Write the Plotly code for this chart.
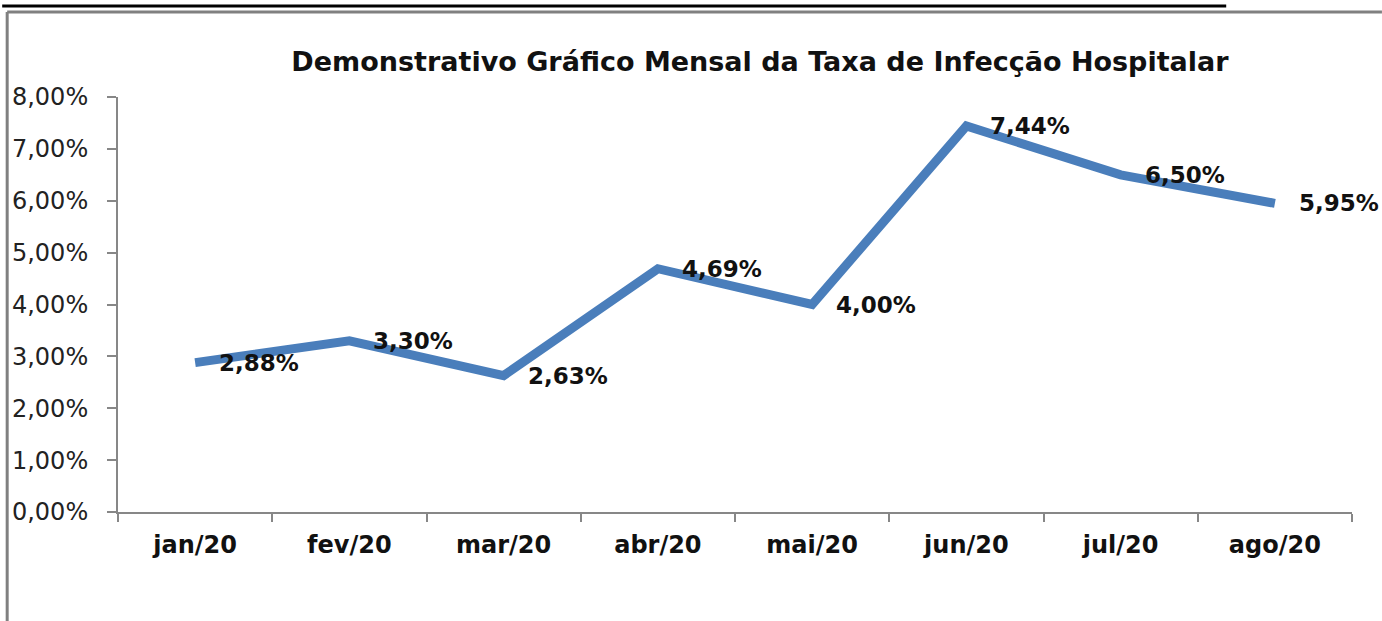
import plotly.graph_objects as go

meses = ["jan/20", "fev/20", "mar/20", "abr/20", "mai/20", "jun/20", "jul/20", "ago/20"]
taxa = [0.0288, 0.0330, 0.0263, 0.0469, 0.0400, 0.0744, 0.0650, 0.0595]
titulo = "Demonstrativo Gráfico Mensal da Taxa de Infecção Hospitalar"

W, H = 1382, 621
L, R, T, B = 116, 30, 97, 109
pw, ph = W - L - R, H - T - B

def px(x):
    return (x - L) / pw

def py(y):
    return (H - B - y) / ph

FONT = "DejaVu Sans"
AX = "#878787"

fig = go.Figure()
fig.add_trace(go.Scatter(
    x=meses, y=taxa, mode="lines",
    line=dict(color="#4A7EBB", width=9),
    hoverinfo="skip", showlegend=False,
))

for m, v in zip(meses, taxa):
    fig.add_annotation(
        x=m, y=v, xref="x", yref="y",
        text=f"<b>{v*100:.2f}%</b>".replace(".", ","),
        showarrow=False, xanchor="left", yanchor="middle", xshift=22,
        font=dict(family=FONT, size=23, color="#111111"),
    )

fig.update_layout(
    width=W, height=H,
    margin=dict(l=L, r=R, t=T, b=B),
    paper_bgcolor="white", plot_bgcolor="white",
    separators=",.",
    title=dict(
        text=f"<b>{titulo}</b>", xref="container", yref="container",
        x=760 / W, y=1 - 62 / H, xanchor="center", yanchor="middle",
        font=dict(family=FONT, size=27, color="#111111"),
    ),
    xaxis=dict(
        type="category", range=[-0.5, 7.5], tickson="boundaries",
        ticks="outside", ticklen=8, tickwidth=2, tickcolor=AX,
        showline=True, linecolor=AX, linewidth=2, showgrid=False,
        tickfont=dict(family=FONT, size=24, color="#111111"),
        ticklabelstandoff=10,
        tickprefix="<b>", ticksuffix="</b>",
    ),
    yaxis=dict(
        range=[0, 0.08], dtick=0.01, tickformat=".2%",
        ticks="outside", ticklen=9, tickwidth=2, tickcolor=AX,
        showline=True, linecolor=AX, linewidth=2, showgrid=False, zeroline=False,
        tickfont=dict(family=FONT, size=24, color="#222222"),
        ticklabelstandoff=14,
    ),
    shapes=[
        dict(type="line", xref="paper", yref="paper", x0=px(5), x1=px(W), y0=py(12), y1=py(12),
             line=dict(color="#808080", width=3), layer="above"),
        dict(type="line", xref="paper", yref="paper", x0=px(5), x1=px(5), y0=py(12), y1=py(H),
             line=dict(color="#808080", width=3), layer="above"),
        dict(type="line", xref="paper", yref="paper", x0=px(0), x1=px(1226), y0=py(6), y1=py(6),
             line=dict(color="black", width=3), layer="above"),
    ],
)

fig.write_html(
    "out.html",
    config={"displayModeBar": False},
    post_script="document.body.style.margin='0';document.body.style.overflow='hidden';",
)
